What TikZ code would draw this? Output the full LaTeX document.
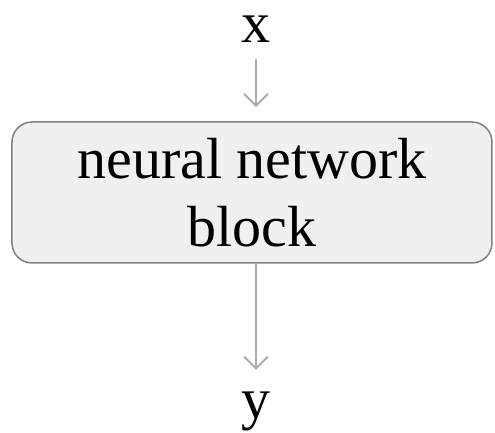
\documentclass[tikz,border=0pt]{standalone}
\usepackage{fontspec}
\setmainfont{Liberation Serif}
\usetikzlibrary{arrows.meta,positioning}

\begin{document}
\begin{tikzpicture}[x=0.5pt,y=-0.5pt]
\tikzset{
  blocknode/.style={rectangle,rounded corners=10pt,draw=black!50,fill=black!6,line width=0.75pt,
    minimum width=240pt,minimum height=70.5pt,align=center,font=\fontsize{29}{34}\selectfont},
  ionode/.style={anchor=base,inner sep=8pt,font=\fontsize{29}{34}\selectfont},
  flow/.style={-{Straight Barb[length=6pt,width=12pt]},draw=black!33,line width=1pt}
}
\useasboundingbox (0,0) rectangle (495,433);
\node[blocknode] (n_block) at (252,192.5) {neural network\\block};
\node[ionode] (n_x) at (256,43) {x};
\node[ionode] (n_y) at (256,419) {y};
\draw[flow,shorten >=7pt] (n_x) -- (n_x|-n_block.north);
\draw[flow,shorten >=3pt] (n_x|-n_block.south) -- (n_y);
\end{tikzpicture}
\end{document}
